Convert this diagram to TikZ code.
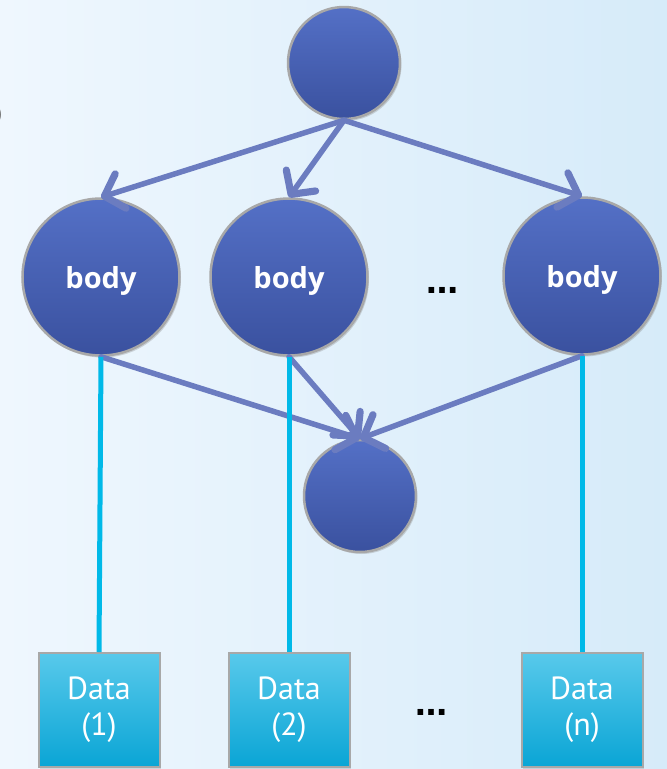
\documentclass[tikz,border=0pt]{standalone}
\usepackage{fontspec}
\setmainfont{Open Sans}
\newfontfamily\datafont{PT Sans}
\newfontfamily\dotfont{DejaVu Sans}
\usetikzlibrary{arrows.meta,shadows}

\definecolor{bgleft}{HTML}{EFF7FE}
\definecolor{bgright}{HTML}{D6EBF9}
\definecolor{balltop}{HTML}{5470C6}
\definecolor{ballbot}{HTML}{3A519F}
\definecolor{ballrim}{HTML}{A8A8A8}
\definecolor{flow}{HTML}{6B7CC0}
\definecolor{link}{HTML}{00B9E8}
\definecolor{datatop}{HTML}{58C9EB}
\definecolor{databot}{HTML}{0AA5D5}

\tikzset{
  ball/.style={circle, inner sep=0pt, minimum size=112pt,
    top color=balltop, bottom color=ballbot, draw=ballrim, line width=2.5pt,
    drop shadow={opacity=0.3, shadow xshift=1.5pt, shadow yshift=-2pt},
    text=white, font=\bfseries\fontsize{29}{34}\selectfont},
  bodyball/.style={ball, minimum size=157pt, text depth=0pt},
  databox/.style={rectangle, inner sep=0pt, minimum width=121pt, minimum height=114pt,
    top color=datatop, bottom color=databot, draw=ballrim, line width=2pt,
    drop shadow={opacity=0.25, shadow xshift=1.5pt, shadow yshift=-2pt},
    text=white, align=center, font=\datafont\fontsize{32}{36}\selectfont},
  flowarrow/.style={draw=flow, line width=5.5pt, line cap=round,
    -{Straight Barb[length=17pt,width=36pt,round,line width=0pt 1.3]}},
  linkline/.style={draw=link, line width=5pt},
  ellipsis/.style={inner sep=0pt, font=\dotfont\bfseries\fontsize{32}{32}\selectfont},
}

\begin{document}
\begin{tikzpicture}[x=1pt,y=-1pt]
  % backdrop
  \useasboundingbox (0,0) rectangle (667,769);
  \shade[left color=bgleft, right color=bgright] (0,0) rectangle (667,769);
  \node[anchor=east, inner sep=0pt, text=black!60, font=\fontsize{20}{20}\selectfont]
    (edgemark) at (2,115) {)};

  % task graph
  \node[ball] (top) at (344,63) {};
  \node[bodyball] (body1) at (101,277) {body};
  \node[bodyball] (body2) at (289,277) {body};
  \node[bodyball] (body3) at (582,276) {body};
  \node[ellipsis] (dots1) at (442,290) {…};
  \node[ball] (bot) at (360,496) {};

  % data blocks
  \node[databox] (data1) at (99,710) {Data\\(1)};
  \node[databox] (data2) at (289,710) {Data\\(2)};
  \node[databox] (datan) at (582,710) {Data\\(n)};
  \node[ellipsis] (dots2) at (431,712) {…};

  % fan-out and fan-in
  \draw[flowarrow] (top.south) -- (body1.north);
  \draw[flowarrow] (top.south) -- (body2.north);
  \draw[flowarrow] (top.south) -- (body3.north);
  \draw[flowarrow] (body1.south) -- (bot.north);
  \draw[flowarrow] (body2.south) -- (bot.north);
  \draw[flowarrow] (body3.south) -- (bot.north);

  % data links
  \draw[linkline] (body1.south) -- (data1.north);
  \draw[linkline] (body2.south) -- (data2.north);
  \draw[linkline] (body3.south) -- (datan.north);
\end{tikzpicture}
\end{document}
